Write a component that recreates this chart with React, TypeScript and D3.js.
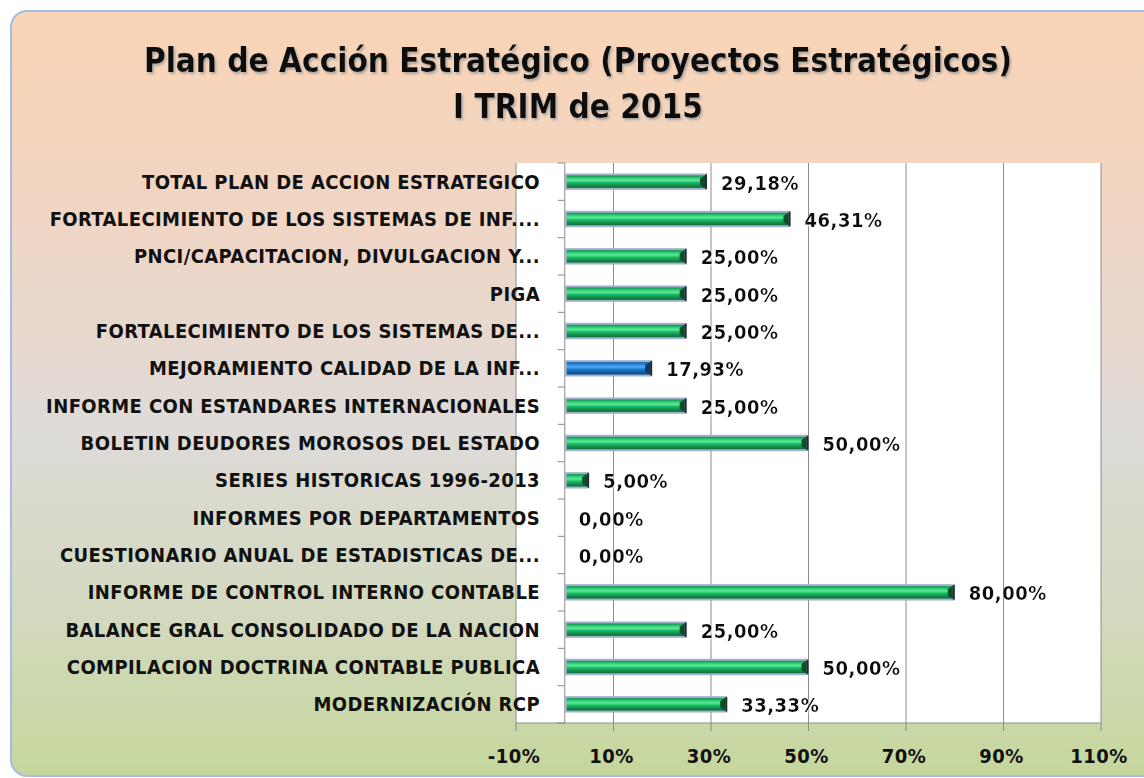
import React from "react";
import * as d3 from "d3";

const categories = [
  "TOTAL PLAN DE ACCION ESTRATEGICO",
  "FORTALECIMIENTO DE LOS SISTEMAS DE INF....",
  "PNCI/CAPACITACION, DIVULGACION Y...",
  "PIGA",
  "FORTALECIMIENTO DE LOS SISTEMAS DE...",
  "MEJORAMIENTO CALIDAD DE LA INF...",
  "INFORME CON ESTANDARES INTERNACIONALES",
  "BOLETIN DEUDORES MOROSOS DEL ESTADO",
  "SERIES HISTORICAS 1996-2013",
  "INFORMES POR DEPARTAMENTOS",
  "CUESTIONARIO ANUAL DE ESTADISTICAS DE...",
  "INFORME DE CONTROL INTERNO CONTABLE",
  "BALANCE GRAL CONSOLIDADO DE LA NACION",
  "COMPILACION DOCTRINA CONTABLE PUBLICA",
  "MODERNIZACIÓN RCP",
];
const values = [29.18, 46.31, 25, 25, 25, 17.93, 25, 50, 5, 0, 0, 80, 25, 50, 33.33];
const highlighted = ["MEJORAMIENTO CALIDAD DE LA INF..."];
const ticks = [-10, 10, 30, 50, 70, 90, 110];
const titleLines = ["Plan de Acción Estratégico (Proyectos Estratégicos)", "I TRIM de 2015"];

const W = 1144;
const H = 778;
const FONT = "'DejaVu Sans Condensed', 'Liberation Sans Narrow', 'Open Sans', sans-serif";

export default function App() {
  const x = d3.scaleLinear().domain([-10, 110]).range([516, 1101]);
  const y = d3.scaleBand<string>().domain(categories).range([163, 723]).paddingInner(0.56).paddingOuter(0.28);
  const bh = y.bandwidth();
  const step = y.step();
  const fmt = (v: number) => v.toFixed(2).replace(".", ",") + "%";

  return (
    <svg width={W} height={H} style={{ position: "absolute", left: 0, top: 0 }}>
      <defs>
        <linearGradient id="bg" x1="0" y1="0" x2="0" y2="1">
          <stop offset="0" stopColor="#fad4b5" />
          <stop offset="0.3" stopColor="#efd6c6" />
          <stop offset="0.55" stopColor="#dedbd8" />
          <stop offset="0.8" stopColor="#d2d9bd" />
          <stop offset="1" stopColor="#c5d79c" />
        </linearGradient>
        <linearGradient id="green" x1="0" y1="0" x2="0" y2="1">
          <stop offset="0" stopColor="#0f8a48" />
          <stop offset="0.2" stopColor="#2ccf76" />
          <stop offset="0.4" stopColor="#5ee89c" />
          <stop offset="0.55" stopColor="#1fbf66" />
          <stop offset="0.8" stopColor="#138f4c" />
          <stop offset="1" stopColor="#0c6a38" />
        </linearGradient>
        <linearGradient id="blue" x1="0" y1="0" x2="0" y2="1">
          <stop offset="0" stopColor="#0f5da8" />
          <stop offset="0.2" stopColor="#2a8ce0" />
          <stop offset="0.4" stopColor="#55aaf0" />
          <stop offset="0.55" stopColor="#1f7fd4" />
          <stop offset="0.8" stopColor="#145fa8" />
          <stop offset="1" stopColor="#0c4a85" />
        </linearGradient>
        <filter id="shadow" x="-5%" y="-20%" width="110%" height="150%">
          <feDropShadow dx="1.5" dy="2" stdDeviation="1" floodColor="#9a9a9a" floodOpacity="0.8" />
        </filter>
        <filter id="glow" x="-10%" y="-30%" width="120%" height="160%">
          <feDropShadow dx="1" dy="1" stdDeviation="0.8" floodColor="#ffffff" floodOpacity="0.9" />
        </filter>
      </defs>

      <rect x={11} y={11} width={1150} height={765} rx={16} fill="url(#bg)" stroke="#a5bde6" strokeWidth={2} />

      {titleLines.map((t, i) => (
        <text
          key={t}
          x={578}
          y={72 + i * 46}
          textAnchor="middle"
          fontFamily={FONT}
          fontWeight="bold"
          fontSize={33}
          fill="#111"
          filter="url(#shadow)"
        >
          {t}
        </text>
      ))}

      {/* plot area */}
      <rect x={x(-10)} y={163} width={x(110) - x(-10)} height={560} fill="#ffffff" />
      {ticks.map((t) => (
        <g key={t}>
          <line x1={x(t)} x2={x(t)} y1={163} y2={723} stroke="#8c8c8c" strokeWidth={1} />
          <line x1={x(t)} x2={x(t)} y1={723} y2={731} stroke="#8c8c8c" strokeWidth={1} />
          <text
            x={x(t) - 2}
            y={763}
            textAnchor="middle"
            fontFamily={FONT}
            fontWeight="bold"
            fontSize={20}
            letterSpacing={0.5}
            fill="#111"
          >
            {t + "%"}
          </text>
        </g>
      ))}
      <line x1={x(-10)} x2={x(110)} y1={723} y2={723} stroke="#8c8c8c" />
      <line x1={x(0)} x2={x(0)} y1={163} y2={723} stroke="#8c8c8c" />
      {d3.range(categories.length + 1).map((i) => (
        <line key={i} x1={x(0) - 7} x2={x(0)} y1={163 + i * step} y2={163 + i * step} stroke="#8c8c8c" />
      ))}

      {categories.map((c, i) => {
        const v = values[i];
        const y0 = y(c)!;
        const x0 = x(0);
        const x1 = x(v);
        const w = x1 - x0;
        const isBlue = highlighted.includes(c);
        return (
          <g key={c}>
            <text
              x={540}
              y={y0 + bh / 2 + 7}
              textAnchor="end"
              fontFamily={FONT}
              fontWeight="bold"
              fontSize={20}
              letterSpacing={0.4}
              fill="#111"
            >
              {c}
            </text>
            {w > 0 && (
              <g>
                <rect x={x0} y={y0} width={w} height={bh} fill="#a3b3cf" />
                <rect x={x0 + 2} y={y0 + 2} width={Math.max(0, w - 4)} height={bh - 4} fill={isBlue ? "url(#blue)" : "url(#green)"} />
                <path
                  d={`M${x1 - 2},${y0 + 2} L${x1 - 2},${y0 + bh - 2} L${x1 - 7},${y0 + bh - 5} L${x1 - 7},${y0 + 5} Z`}
                  fill={isBlue ? "#0b3a66" : "#0b4a2a"}
                />
                <rect x={x1 - 2} y={y0 + 1} width={2} height={bh - 2} fill="#2a2a2a" />
              </g>
            )}
            <text
              x={x1 + 14}
              y={y0 + bh / 2 + 8}
              fontFamily={FONT}
              fontWeight="bold"
              fontSize={20}
              letterSpacing={0.5}
              fill="#111"
              filter="url(#glow)"
            >
              {fmt(v)}
            </text>
          </g>
        );
      })}
    </svg>
  );
}
